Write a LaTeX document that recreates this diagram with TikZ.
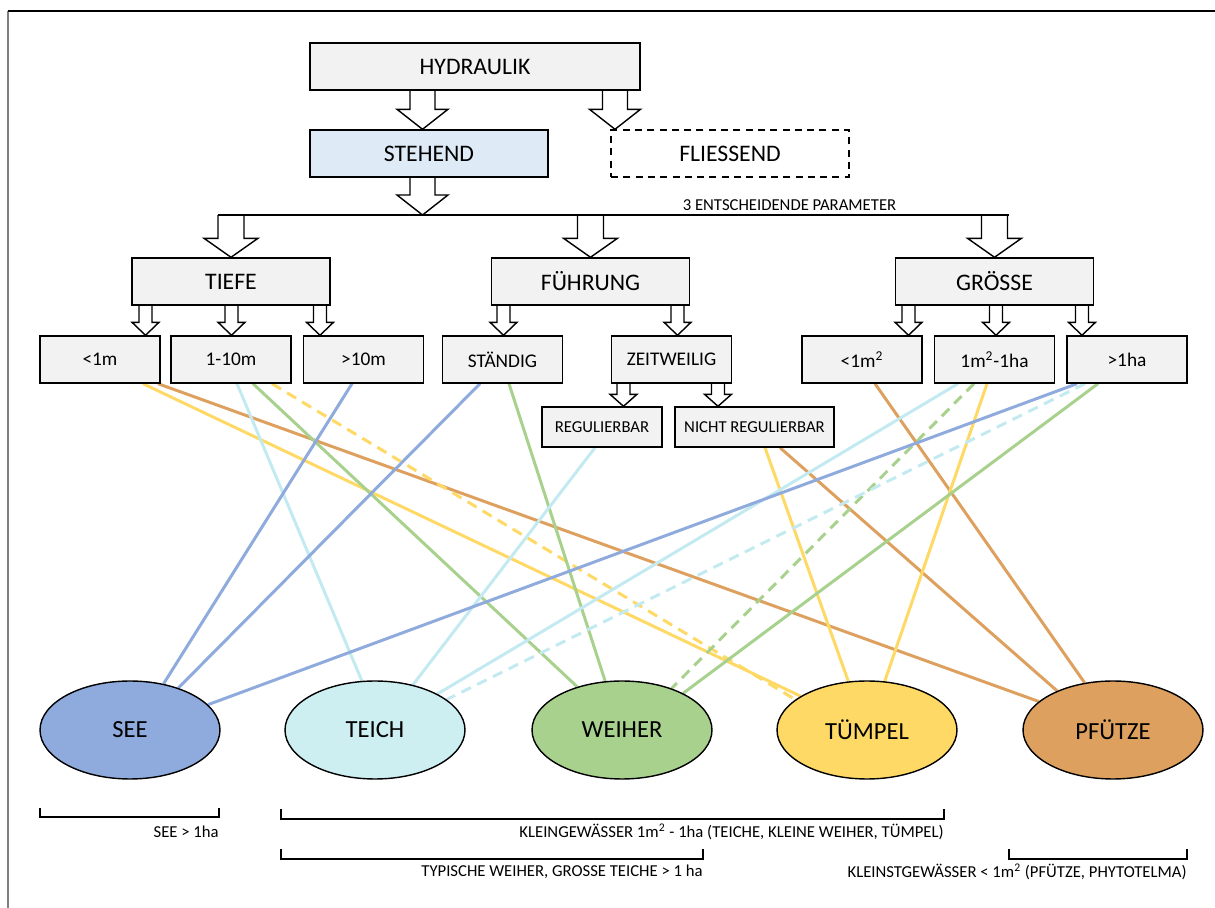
\documentclass[tikz,border=0pt]{standalone}
\usepackage{fontspec}
\setmainfont{Carlito}
\usetikzlibrary{shapes.geometric,calc,backgrounds}

\definecolor{boxgray}{HTML}{F2F2F2}
\definecolor{stehblue}{HTML}{DEEBF7}
\definecolor{seeblue}{HTML}{8FAADC}
\definecolor{teichcyan}{HTML}{CDEFF2}
\definecolor{teichline}{HTML}{C2EAF0}
\definecolor{weihergreen}{HTML}{A9D18E}
\definecolor{tuempelyellow}{HTML}{FFD966}
\definecolor{pfuetzeorange}{HTML}{DDA05E}
\definecolor{frameline}{HTML}{7F7F7F}

% hollow block arrow: start, end, half shaft, half head, head length
\newcommand{\blockarrow}[5]{%
    \draw[line width=0.8pt, fill=white] let \p1=#1, \p2=#2 in
        (\x1-#3,\y1) -- (\x1-#3,\y2+#5) -- (\x1-#4,\y2+#5) -- (\x1,\y2)
        -- (\x1+#4,\y2+#5) -- (\x1+#3,\y2+#5) -- (\x1+#3,\y1);}

\begin{document}
\begin{tikzpicture}[x=0.02cm, y=-0.02cm]
        \tikzstyle{box}=[draw, line width=0.8pt, fill=boxgray, minimum height=0.94cm, inner sep=0pt, font=\fontsize{13.5}{16}\selectfont]
        \tikzstyle{sub}=[box, minimum width=2.4cm, font=\fontsize{11}{13}\selectfont]
        \tikzstyle{subsub}=[box, minimum height=0.8cm, font=\fontsize{9.5}{11}\selectfont]
        \tikzstyle{pond}=[ellipse, draw, line width=0.8pt, minimum width=3.6cm, minimum height=1.96cm, inner sep=0pt, font=\fontsize{14}{16}\selectfont]
        \tikzstyle{note}=[inner sep=0pt, font=\fontsize{9.5}{11}\selectfont]
        \tikzstyle{link}=[line width=1.7pt]
        \tikzstyle{dashlink}=[link, dash pattern=on 6pt off 4pt]

        \useasboundingbox (0,0) rectangle (1215,908);
        \draw[frameline, line width=1.2pt] (8,11) -- (8,908);
        \draw[line width=0.7pt] (8,11) -- (1215,11);

        \node[box, minimum width=6.6cm] (hyd) at (475,66.5) {HYDRAULIK};
        \node[box, fill=stehblue, minimum width=4.76cm] (steh) at (429,153.5) {STEHEND};
        \node[box, fill=white, dash pattern=on 4pt off 3pt, minimum width=4.76cm] (flie) at (730,153.5) {FLIESSEND};

        \coordinate (barL) at (218,215);
        \coordinate (barR) at (1009,215);
        \node[note] (param) at (789.5,205) {3 ENTSCHEIDENDE PARAMETER};

        \node[box, minimum width=3.96cm] (tiefe) at (231,281.5) {TIEFE};
        \node[box, minimum width=3.96cm] (fuehr) at (590.5,281.5) {FÜHRUNG};
        \node[box, minimum width=3.96cm] (groesse) at (994.5,281.5) {GRÖSSE};

        \node[sub] (lt1m) at (100,359.5) {<1m};
        \node[sub] (m110) at (231,359.5) {1-10m};
        \node[sub] (gt10) at (363.5,359.5) {>10m};
        \node[sub] (staend) at (502.5,359.5) {STÄNDIG};
        \node[sub] (zeitw) at (671.5,359.5) {ZEITWEILIG};
        \node[sub] (lt1q) at (862,359.5) {<1m\textsuperscript{2}};
        \node[sub] (q1ha) at (994.5,359.5) {1m\textsuperscript{2}-1ha};
        \node[sub] (gt1ha) at (1127,359.5) {>1ha};

        \node[subsub, minimum width=2.4cm] (reg) at (602,427) {REGULIERBAR};
        \node[subsub, minimum width=3.18cm] (nreg) at (754.5,427) {NICHT REGULIERBAR};

        \node[pond, fill=seeblue] (see) at (130,730) {SEE};
        \node[pond, fill=teichcyan] (teich) at (375,730) {TEICH};
        \node[pond, fill=weihergreen] (weiher) at (622,730) {WEIHER};
        \node[pond, fill=tuempelyellow] (tuempel) at (867,730) {TÜMPEL};
        \node[pond, fill=pfuetzeorange] (pfuetze) at (1113,730) {PFÜTZE};

        \draw[line width=0.8pt] (barL) -- (barR);

        \begin{scope}[on background layer]
        \blockarrow{($(hyd.south)+(-52.5,0)$)}{(steh.north)}{0.25cm}{0.51cm}{0.4cm}
        \blockarrow{($(hyd.south)+(140,0)$)}{(flie.north)}{0.25cm}{0.51cm}{0.4cm}
        \blockarrow{($(steh.south)+(-6.5,0)$)}{(barL)}{0.25cm}{0.51cm}{0.4cm}
        \blockarrow{(tiefe.north |- barL)}{(tiefe.north)}{0.26cm}{0.54cm}{0.38cm}
        \blockarrow{(fuehr.north |- barL)}{(fuehr.north)}{0.26cm}{0.54cm}{0.38cm}
        \blockarrow{(groesse.north |- barL)}{(groesse.north)}{0.26cm}{0.54cm}{0.38cm}

        \blockarrow{($(tiefe.south)+(-85.5,0)$)}{(lt1m.north)}{0.13cm}{0.27cm}{0.26cm}
        \blockarrow{($(tiefe.south)+(0.5,0)$)}{(m110.north)}{0.13cm}{0.27cm}{0.26cm}
        \blockarrow{($(tiefe.south)+(89,0)$)}{(gt10.north)}{0.13cm}{0.27cm}{0.26cm}
        \blockarrow{($(fuehr.south)+(-87,0)$)}{(staend.north)}{0.13cm}{0.27cm}{0.26cm}
        \blockarrow{($(fuehr.south)+(87,0)$)}{(zeitw.north)}{0.13cm}{0.27cm}{0.26cm}
        \blockarrow{($(zeitw.south)+(-48,0)$)}{(reg.north)}{0.13cm}{0.27cm}{0.24cm}
        \blockarrow{($(zeitw.south)+(46.5,0)$)}{(nreg.north)}{0.13cm}{0.27cm}{0.24cm}
        \blockarrow{($(groesse.south)+(-86,0)$)}{(lt1q.north)}{0.13cm}{0.27cm}{0.26cm}
        \blockarrow{($(groesse.south)+(1.5,0)$)}{(q1ha.north)}{0.13cm}{0.27cm}{0.26cm}
        \blockarrow{($(groesse.south)+(87.5,0)$)}{(gt1ha.north)}{0.13cm}{0.27cm}{0.26cm}

        \draw[link, tuempelyellow] ($(lt1m.south)+(43,0)$) -- (tuempel.153);
        \draw[link, pfuetzeorange] ($(lt1m.south)+(58,0)$) -- (pfuetze.159);
        \draw[link, teichline] ($(m110.south)+(6,0)$) -- (teich.105);
        \draw[link, weihergreen] ($(m110.south)+(22,0)$) -- (weiher.136);
        \draw[dashlink, tuempelyellow] ($(m110.south)+(41,0)$) -- (tuempel.157);
        \draw[link, seeblue] ($(gt10.south)+(-11.5,0)$) -- (see.54);
        \draw[link, seeblue] ($(staend.south)+(-22.5,0)$) -- (see.41);
        \draw[link, weihergreen] ($(staend.south)+(6.5,0)$) -- (weiher.109);
        \draw[link, teichline] ($(reg.south)+(-7,0)$) -- (teich.50);
        \draw[link, tuempelyellow] ($(nreg.south)+(10.5,0)$) -- (tuempel.111);
        \draw[link, pfuetzeorange] ($(nreg.south)+(25.5,0)$) -- (pfuetze.145);
        \draw[link, pfuetzeorange] ($(lt1q.south)+(13,0)$) -- (pfuetze.121);
        \draw[link, teichline] ($(q1ha.south)+(-36.5,0)$) -- (teich.30);
        \draw[dashlink, weihergreen] ($(q1ha.south)+(-20.5,0)$) -- (weiher.40);
        \draw[link, tuempelyellow] ($(q1ha.south)+(-7.5,0)$) -- (tuempel.70);
        \draw[link, seeblue] ($(gt1ha.south)+(-50,0)$) -- (see.18);
        \draw[dashlink, teichline] ($(gt1ha.south)+(-42,0)$) -- (teich.23);
        \draw[link, weihergreen] ($(gt1ha.south)+(-29,0)$) -- (weiher.31);
        \end{scope}

        \draw[line width=0.8pt] (40,808) |- (219,817) -- (219,808);
        \node[note, anchor=east] (seelbl) at (219,832) {SEE > 1ha};
        \draw[line width=0.8pt] (281,809) |- (944,819) -- (944,809);
        \node[note, anchor=east] (kleinlbl) at (944,832) {KLEINGEWÄSSER 1m\textsuperscript{2} - 1ha (TEICHE, KLEINE WEIHER, TÜMPEL)};
        \draw[line width=0.8pt] (281,849) |- (703,859) -- (703,849);
        \node[note, anchor=east] (weiherlbl) at (703,872) {TYPISCHE WEIHER, GROSSE TEICHE > 1 ha};
        \draw[line width=0.8pt] (1009,849) |- (1187,859) -- (1187,849);
        \node[note, anchor=east] (kleinstlbl) at (1187,872) {KLEINSTGEWÄSSER < 1m\textsuperscript{2} (PFÜTZE, PHYTOTELMA)};
\end{tikzpicture}
\end{document}
